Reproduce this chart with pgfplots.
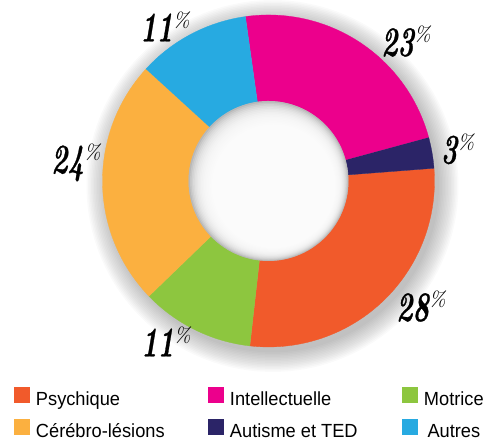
\documentclass[border=0pt]{standalone}
\usepackage{pgfplots}
\pgfplotsset{compat=1.18}
\usepackage{fontspec}
\newfontfamily\numfont[FakeStretch=0.66, BoldItalicFeatures={FakeBold=0.7}]{Latin Modern Roman}
\newfontfamily\legfont[FakeStretch=0.96]{Liberation Sans}
\definecolor{cPsy}{HTML}{F15A2B}
\definecolor{cInt}{HTML}{EC008C}
\definecolor{cMot}{HTML}{8DC63F}
\definecolor{cCer}{HTML}{FBB040}
\definecolor{cAut}{HTML}{2B2467}
\definecolor{cAutres}{HTML}{27AAE1}
% data (percent), clockwise from the top
\def\pIntel{23}
\def\pAut{3}
\def\pPsy{28}
\def\pMot{11}
\def\pCer{24}
\def\pAutres{11}
\pgfmathsetmacro\sIntel{0}
\pgfmathsetmacro\sAut{\sIntel+\pIntel}
\pgfmathsetmacro\sPsy{\sAut+\pAut}
\pgfmathsetmacro\sMot{\sPsy+\pPsy}
\pgfmathsetmacro\sCer{\sMot+\pMot}
\pgfmathsetmacro\sAutres{\sCer+\pCer}
\def\Ro{166}
\def\Ri{80}
\newcommand\seg[4]{%
  \pgfmathsetmacro\aS{98-3.6*#1}%
  \pgfmathsetmacro\aE{98-3.6*(#1+#2)}%
  \addplot[fill=#3, draw=#3, line width=0.3pt, domain=0:3, samples=241, variable=\t]
    ({(\t<=1.5)*\Ro*cos(\aS+(\aE-\aS)*min(\t,1)) + (\t>1.5)*\Ri*cos(\aE-(\aE-\aS)*max(\t-2,0))},
     {(\t<=1.5)*\Ro*sin(\aS+(\aE-\aS)*min(\t,1)) + (\t>1.5)*\Ri*sin(\aE-(\aE-\aS)*max(\t-2,0))});
  \addlegendentry{#4}%
}
\newcommand\lab[1]{{\numfont\fontsize{42}{42}\selectfont\bfseries\itshape #1}\raisebox{14pt}{\normalfont\fontsize{21}{21}\selectfont\itshape\%}}
\begin{document}
\begin{tikzpicture}
\begin{axis}[
  x=1pt, y=1pt,
  xmin=-268.5, xmax=230.5, ymin=-262.5, ymax=178.5,
  hide axis, clip=false,
  legend columns=3,
  legend style={at={(axis description cs:0.028,0.127)}, anchor=north west, draw=none, fill=none,
    inner sep=0pt, outer sep=0pt, row sep=10pt,
    font=\legfont\fontsize{19}{19}\selectfont,
    /tikz/every odd column/.style={column sep=6pt},
    /tikz/every even column/.style={column sep=0pt},
    nodes={inner sep=0pt, text height=14pt, text depth=4pt}},
  legend image code/.code={\fill[#1, draw=none] (0pt,-3pt) rectangle (16pt,13pt);},
]
\path (rel axis cs:0,0) rectangle (rel axis cs:1,1);
% soft outer shadow
\pgfplotsinvokeforeach{1,...,14}{
  \addplot[fill=black, fill opacity=0.019, draw=none, domain=0:360, samples=120, forget plot]
    ({4+(165+1.5*#1)*cos(x)}, {-5+(165+1.5*#1)*sin(x)});
}
% segments in legend order
\seg{\sPsy}{\pPsy}{cPsy}{\makebox[172pt][l]{Psychique}}
\seg{\sIntel}{\pIntel}{cInt}{\makebox[172pt][l]{Intellectuelle}}
\seg{\sMot}{\pMot}{cMot}{Motrice}
\seg{\sCer}{\pCer}{cCer}{\makebox[172pt][l]{Cérébro-lésions}}
\seg{\sAut}{\pAut}{cAut}{\makebox[172pt][l]{Autisme et TED}}
\seg{\sAutres}{\pAutres}{cAutres}{Autres}
% inner hole with soft inner shadow (stacked translucent white disks)
\addplot[fill=black!28, draw=none, domain=0:360, samples=120, forget plot]
  ({\Ri*cos(x)}, {\Ri*sin(x)});
\pgfplotsinvokeforeach{1,...,30}{
  \addplot[fill=white, fill opacity=0.2, draw=none, domain=0:360, samples=120, forget plot]
    ({0.35*#1+(\Ri-1.2*#1)*cos(x)}, {-0.35*#1+(\Ri-1.2*#1)*sin(x)});
}
% labels
\node[inner sep=0pt] at (axis cs:137.5,139.5) {\lab{23}};
\node[inner sep=0pt] at (axis cs:189,32) {\lab{3}};
\node[inner sep=0pt] at (axis cs:152.5,-125.5) {\lab{28}};
\node[inner sep=0pt] at (axis cs:-102.5,-160.5) {\lab{11}};
\node[inner sep=0pt] at (axis cs:-192.5,18.5) {\lab{24}};
\node[inner sep=0pt] at (axis cs:-103.5,154.5) {\lab{11}};
\end{axis}
\end{tikzpicture}
\end{document}
